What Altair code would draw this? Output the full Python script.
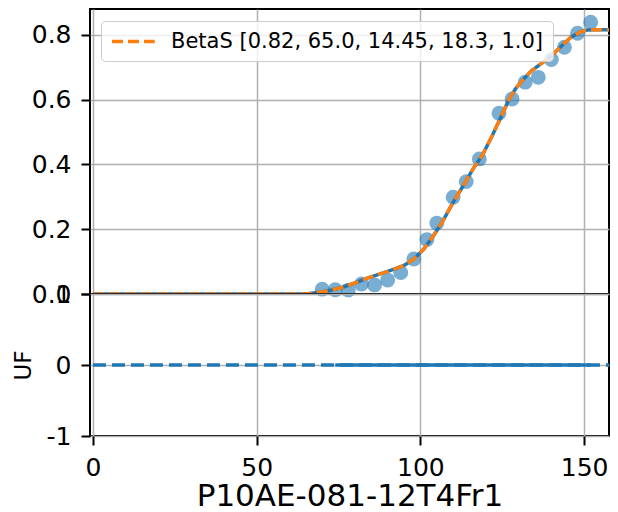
import altair as alt
import pandas as pd

# measured points (scatter)
pt_x = [70, 74, 78, 82, 86, 90, 94, 98, 102, 105, 110, 114, 118, 124, 128, 132, 136, 140, 144, 148, 152]
pt_y = [0.015, 0.013, 0.012, 0.031, 0.028, 0.043, 0.066, 0.108, 0.168, 0.219, 0.299, 0.347,
        0.417, 0.558, 0.602, 0.654, 0.669, 0.724, 0.762, 0.805, 0.839]

# fitted / smoothed curve
curve_x = [0, 65, 68, 72, 76, 80, 84, 88, 92, 95, 98, 101, 104, 107, 110, 113, 116, 119, 122,
           125, 127, 129, 131, 134, 137, 140, 143, 146, 149, 151, 153, 157.6]
curve_y = [0, 0, 0.004, 0.01, 0.02, 0.034, 0.05, 0.063, 0.077, 0.088, 0.108, 0.138, 0.18, 0.228,
           0.283, 0.333, 0.385, 0.43, 0.49, 0.555, 0.6, 0.633, 0.658, 0.69, 0.712, 0.735, 0.765,
           0.793, 0.81, 0.815, 0.816, 0.816]
fit_label = "BetaS [0.82, 65.0, 14.45, 18.3, 1.0]"

# lower panel (UF)
uf_x = [0, 157.6]
uf_y = [0, 0]
res_x = [74, 152]
res_y = [0, 0]

x_ticks = [0, 50, 100, 150]
x_title = "P10AE-081-12T4Fr1"

XDOM = [-0.9, 157.6]
BLUE = "#1f77b4"
ORANGE = "#ff7f0e"
W = 519

pts = pd.DataFrame({"x": pt_x, "y": pt_y})
crv = pd.DataFrame({"x": curve_x, "y": curve_y, "label": [fit_label] * len(curve_x)})
uf = pd.DataFrame({"x": uf_x, "y": uf_y})
res = pd.DataFrame({"x": res_x, "y": res_y})

x_top = alt.X("x:Q", scale=alt.Scale(domain=XDOM, nice=False, zero=False),
              axis=alt.Axis(values=x_ticks, labels=False, ticks=False, grid=True, title=None))
y_top = alt.Y("y:Q", scale=alt.Scale(domain=[0, 0.88], nice=False),
              axis=alt.Axis(values=[0, 0.2, 0.4, 0.6, 0.8], format=".1f", title=None,
                            labelOverlap=False))

points = alt.Chart(pts).mark_circle(size=220, opacity=0.6, color=BLUE).encode(x=x_top, y=y_top)
blue_line = alt.Chart(crv).mark_line(color=BLUE, strokeWidth=3.5, clip=True).encode(x=x_top, y=y_top)
fit_line = alt.Chart(crv).mark_line(strokeWidth=3.5, strokeDash=[11, 5], clip=True).encode(
    x=x_top, y=y_top,
    color=alt.Color("label:N", scale=alt.Scale(domain=[fit_label], range=[ORANGE]),
                    legend=alt.Legend(title=None, orient="none", legendX=11, legendY=12,
                                      symbolType="M-1,0H3.5", symbolSize=361, symbolStrokeWidth=3.5,
                                      symbolDash=[11, 5], labelFontSize=21, labelFont="DejaVu Sans",
                                      labelColor="black", labelLimit=800, labelOffset=38, padding=9,
                                      fillColor="rgba(255,255,255,0.8)", strokeColor="#cccccc",
                                      cornerRadius=4)),
)
top = alt.layer(points, blue_line, fit_line).properties(width=W, height=285)

x_bot = alt.X("x:Q", scale=alt.Scale(domain=XDOM, nice=False, zero=False),
              axis=alt.Axis(values=x_ticks, format="d", grid=True, title=x_title,
                            titleFontSize=31, labelPadding=10, titlePadding=1))
y_bot = alt.Y("y:Q", scale=alt.Scale(domain=[-1, 1], nice=False),
              axis=alt.Axis(tickCount=2, format="d", title="UF", titleFontSize=23,
                            titlePadding=11, labelOverlap=False,
                            labelExpr="replace(datum.label, '\u2212', '-')"))

uf_line = alt.Chart(uf).mark_line(color=BLUE, strokeWidth=3.5, strokeDash=[13, 6], clip=True).encode(x=x_bot, y=y_bot)
res_line = alt.Chart(res).mark_line(color=BLUE, strokeWidth=3.5, clip=True).encode(x=x_bot, y=y_bot)
bottom = alt.layer(uf_line, res_line).properties(width=W, height=142)

chart = alt.vconcat(top, bottom, spacing=0, bounds="flush").properties(
    padding={"left": 3, "top": 0, "right": 0, "bottom": 0}
).configure_view(stroke="black", strokeWidth=2).configure_axis(
    labelFont="DejaVu Sans", labelFontSize=25, labelColor="black", labelPadding=10,
    tickColor="black", tickSize=9, tickWidth=2, gridColor="#b0b0b0", gridWidth=1.5,
    domain=False, titleFont="DejaVu Sans", titleColor="black", titleFontWeight="normal",
)

chart.save("out.html", embed_options={"renderer": "svg", "actions": False})
